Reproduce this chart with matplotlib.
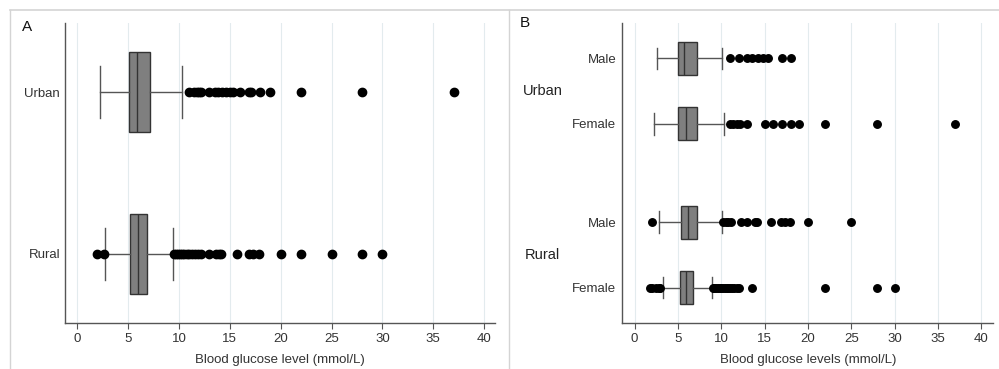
import matplotlib.pyplot as plt
from matplotlib.lines import Line2D

plt.rcParams['font.family'] = ['Liberation Sans', 'DejaVu Sans']

# Panel A: blood glucose by area
area_labels = ['Rural', 'Urban']
area_whislo = [2.75, 2.2]
area_q1 = [5.2, 5.05]
area_med = [5.93, 5.85]
area_q3 = [6.88, 7.2]
area_whishi = [9.4, 10.3]
area_fliers = [
    [1.9, 2.6, 9.5, 9.7, 9.9, 10.1, 10.3, 10.5, 10.8, 11.0, 11.3, 11.6, 11.9, 12.2,
     13.0, 13.6, 13.9, 14.1, 15.7, 16.9, 17.3, 17.9, 20.0, 22.0, 25.0, 28.0, 30.0],
    [11.0, 11.5, 11.8, 12.0, 12.2, 13.0, 13.5, 13.8, 14.2, 14.6, 15.0, 15.3,
     16.0, 16.9, 17.1, 18.0, 19.0, 22.0, 28.0, 37.0],
]

# Panel B: blood glucose by area and sex (bottom to top)
sex_labels = ['Female', 'Male', 'Female', 'Male']
group_labels = ['Rural', 'Urban']
sex_whislo = [3.23, 2.8, 2.23, 2.54]
sex_q1 = [5.27, 5.35, 5.04, 5.04]
sex_med = [5.92, 6.19, 5.89, 5.69]
sex_q3 = [6.7, 7.23, 7.23, 7.23]
sex_whishi = [8.9, 10.04, 10.35, 10.04]
sex_fliers = [
    [1.8, 2.0, 2.5, 2.8, 2.9, 9.0, 9.2, 9.4, 9.6, 9.8, 10.0, 10.2, 10.4, 10.6, 10.8,
     11.0, 11.2, 11.5, 11.8, 12.0, 13.6, 22.0, 28.0, 30.0],
    [1.96, 10.2, 10.5, 10.8, 11.1, 12.3, 13.0, 13.9, 14.1, 15.7, 16.9, 17.4, 17.9,
     20.0, 25.0],
    [11.0, 11.4, 11.8, 12.2, 13.0, 15.0, 16.0, 17.0, 18.0, 19.0, 22.0, 28.0, 37.0],
    [11.0, 12.0, 13.0, 13.6, 14.2, 14.8, 15.4, 17.0, 18.0],
]
sex_positions = [0, 1, 2.5, 3.5]
group_positions = [0.5, 3.0]

x_ticks = [0, 5, 10, 15, 20, 25, 30, 35, 40]

W, H = 999, 369


def make_stats(labels, whislo, q1, med, q3, whishi, fliers):
    return [dict(label=l, whislo=a, q1=b, med=c, q3=d, whishi=e, fliers=f)
            for l, a, b, c, d, e, f in zip(labels, whislo, q1, med, q3, whishi, fliers)]


def style_axes(ax, xlabel, ypad):
    for s in ['top', 'right']:
        ax.spines[s].set_visible(False)
    for s in ['left', 'bottom']:
        ax.spines[s].set_color('#555555')
        ax.spines[s].set_linewidth(1.0)
    ax.set_xticks(x_ticks)
    ax.grid(axis='x', color='#e3ebee', linewidth=0.8)
    ax.set_axisbelow(True)
    ax.tick_params(axis='x', length=4, color='#555555', labelsize=9.5, labelcolor='#333333', pad=3)
    ax.tick_params(axis='y', length=0, labelsize=9.5, labelcolor='#333333', pad=ypad)
    ax.set_xlabel(xlabel, fontsize=9.5, color='#333333', labelpad=7)


def draw_boxes(ax, stats, positions, width, capw, msize):
    ax.bxp(stats, positions=positions, orientation='horizontal', widths=width,
           capwidths=capw, patch_artist=True, showfliers=True,
           boxprops=dict(facecolor='#7f7f7f', edgecolor='#333333', linewidth=1.0),
           medianprops=dict(color='#333333', linewidth=1.0),
           whiskerprops=dict(color='#555555', linewidth=1.0),
           capprops=dict(color='#555555', linewidth=1.0),
           flierprops=dict(marker='o', markerfacecolor='black', markeredgecolor='black',
                           markersize=msize, linestyle='none'))


fig = plt.figure(figsize=(W / 100, H / 100), dpi=100)

# Panel A
axA = fig.add_axes([65 / W, 1 - 323 / H, (495 - 65) / W, (323 - 23) / H])
draw_boxes(axA, make_stats(area_labels, area_whislo, area_q1, area_med, area_q3,
                           area_whishi, area_fliers),
           [0, 1], 0.494, 0.327, 6.0)
axA.set_xlim(-1.2, 41.07)
axA.set_ylim(-0.426, 1.426)
style_axes(axA, 'Blood glucose level (mmol/L)', 3.5)

# Panel B
axB = fig.add_axes([622.3 / W, 1 - 323 / H, (993.3 - 622.3) / W, (323 - 23) / H])
draw_boxes(axB, make_stats(sex_labels, sex_whislo, sex_q1, sex_med, sex_q3,
                           sex_whishi, sex_fliers),
           sex_positions, 0.5, 0.33, 5.4)
axB.set_xlim(-1.43, 41.4)
axB.set_ylim(-0.54, 4.04)
style_axes(axB, 'Blood glucose levels (mmol/L)', 4.3)
for lab, pos in zip(group_labels, group_positions):
    axB.text(-0.215, pos, lab, transform=axB.get_yaxis_transform(),
             ha='center', va='center', fontsize=10.5, color='#222222')

# panel letters
fig.text(22 / W, 1 - 27 / H, 'A', fontsize=11, ha='left', va='center', color='#111111')
fig.text(520 / W, 1 - 23 / H, 'B', fontsize=11, ha='left', va='center', color='#111111')

# light frame around the panels
frame = '#d4d4d4'
fig.add_artist(Line2D([9.5 / W, 1], [1 - 9.5 / H, 1 - 9.5 / H], color=frame, lw=1.2))
fig.add_artist(Line2D([9.5 / W, 9.5 / W], [0, 1 - 9.5 / H], color=frame, lw=1.0))
fig.add_artist(Line2D([509 / W, 509 / W], [0, 1 - 9.5 / H], color=frame, lw=1.0))

fig.savefig('out.png', dpi=100)
